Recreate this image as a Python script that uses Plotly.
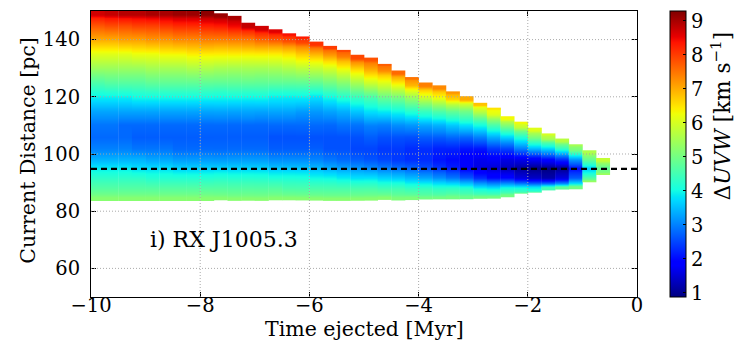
import plotly.graph_objects as go

# ---------------- data ----------------
# start time of every 0.25 Myr column
T_START = [-10.0, -9.75, -9.5, -9.25, -9.0, -8.75, -8.5, -8.25, -8.0, -7.75,
           -7.5, -7.25, -7.0, -6.75, -6.5, -6.25, -6.0, -5.75, -5.5, -5.25,
           -5.0, -4.75, -4.5, -4.25, -4.0, -3.75, -3.5, -3.25, -3.0, -2.75,
           -2.5, -2.25, -2.0, -1.75, -1.5, -1.25, -1.0, -0.75]
BIN_WIDTH = 0.25

# lower / upper distance limit of every column [pc]
D_BOTTOM = [83.7, 83.7, 83.7, 83.7, 83.7, 83.7, 83.7, 83.7, 83.7, 83.7,
            83.7, 83.7, 83.7, 83.7, 83.7, 83.7, 83.7, 83.7, 83.7, 83.7,
            83.7, 83.8, 83.9, 84.0, 84.0, 84.1, 84.2, 84.3, 84.3, 84.4,
            85.0, 86.0, 86.6, 87.1, 87.5, 87.7, 90.0, 92.7]
D_TOP = [150.0, 150.0, 150.0, 150.0, 150.0, 150.0, 150.0, 150.0, 150.0, 149.2,
         148.3, 145.9, 144.8, 143.6, 142.2, 141.1, 139.3, 137.8, 136.4, 134.7,
         133.7, 131.5, 129.2, 126.9, 125.0, 124.0, 121.9, 120.2, 117.9, 116.2,
         113.2, 111.3, 109.2, 107.2, 105.4, 103.4, 101.3, 98.6]

# Delta UVW at the lower and upper limit of each column [km/s]
V_BOTTOM = [5.2, 5.2, 5.2, 5.2, 5.2, 5.2, 5.2, 5.2, 5.2, 5.2,
            5.2, 5.2, 5.2, 5.2, 5.2, 5.2, 5.2, 5.2, 5.2, 5.2,
            5.2, 5.2, 5.1, 5.1, 5.0, 5.0, 5.0, 4.9, 5.0, 5.0,
            5.0, 4.9, 4.7, 4.5, 4.8, 5.0, 5.4, 5.4]
V_TOP = [8.7, 8.8, 8.9, 8.9, 9.0, 9.0, 9.1, 9.1, 9.2, 9.1,
         9.0, 8.8, 8.7, 8.6, 8.4, 8.3, 8.1, 8.0, 7.9, 7.9,
         7.8, 7.7, 7.6, 7.5, 7.4, 7.3, 7.2, 7.0, 6.8, 6.5,
         6.3, 6.3, 6.1, 6.0, 5.7, 5.5, 5.6, 5.8]

# Delta UVW inside each column, read at these distances [pc]
LEVELS = [88, 92, 95, 98, 102, 106, 110, 115, 120, 125, 130, 135, 140, 145]
N = None
V_GRID = [
    [4.7, 4.3, 3.9, 3.4, 3.0, 2.8, 2.9, 3.3, 3.9, 4.6, 5.4, 6.1, 7.0, 7.8],
    [4.7, 4.3, 3.9, 3.4, 3.0, 2.8, 2.9, 3.3, 3.9, 4.7, 5.4, 6.1, 7.0, 7.9],
    [4.7, 4.3, 3.9, 3.4, 3.0, 2.8, 2.8, 3.3, 3.9, 4.7, 5.4, 6.1, 7.1, 7.9],
    [4.7, 4.3, 3.8, 3.4, 2.9, 2.7, 2.8, 3.3, 4.0, 4.7, 5.4, 6.2, 7.1, 8.0],
    [4.7, 4.2, 3.8, 3.3, 2.9, 2.7, 2.8, 3.3, 4.0, 4.8, 5.5, 6.2, 7.2, 8.0],
    [4.7, 4.2, 3.8, 3.3, 2.9, 2.7, 2.8, 3.3, 4.0, 4.8, 5.5, 6.3, 7.2, 8.1],
    [4.7, 4.2, 3.7, 3.2, 2.8, 2.7, 2.8, 3.3, 4.0, 4.8, 5.5, 6.3, 7.3, 8.2],
    [4.7, 4.2, 3.7, 3.2, 2.8, 2.7, 2.8, 3.3, 4.0, 4.8, 5.6, 6.4, 7.3, 8.2],
    [4.7, 4.2, 3.7, 3.2, 2.8, 2.7, 2.8, 3.3, 4.0, 4.8, 5.6, 6.4, 7.4, 8.3],
    [4.7, 4.2, 3.7, 3.2, 2.8, 2.7, 2.8, 3.3, 4.0, 4.8, 5.5, 6.4, 7.4, 8.3],
    [4.7, 4.2, 3.7, 3.2, 2.8, 2.7, 2.8, 3.3, 4.0, 4.8, 5.5, 6.4, 7.4, 8.4],
    [4.7, 4.2, 3.7, 3.2, 2.8, 2.7, 2.8, 3.3, 4.0, 4.8, 5.5, 6.4, 7.5, N],
    [4.7, 4.2, 3.7, 3.2, 2.8, 2.7, 2.8, 3.3, 4.0, 4.8, 5.5, 6.4, 7.6, N],
    [4.7, 4.1, 3.6, 3.1, 2.7, 2.6, 2.8, 3.3, 3.9, 4.8, 5.5, 6.4, 7.7, N],
    [4.6, 4.1, 3.6, 3.1, 2.7, 2.6, 2.8, 3.3, 3.9, 4.8, 5.6, 6.5, 7.8, N],
    [4.6, 4.1, 3.6, 3.1, 2.7, 2.6, 2.8, 3.2, 3.9, 4.8, 5.7, 6.7, 7.9, N],
    [4.6, 4.0, 3.5, 3.0, 2.7, 2.6, 2.8, 3.2, 3.8, 4.8, 5.8, 6.9, N, N],
    [4.6, 4.0, 3.4, 2.9, 2.6, 2.6, 2.8, 3.3, 4.0, 5.0, 6.0, 7.1, N, N],
    [4.6, 3.9, 3.3, 2.8, 2.6, 2.6, 2.9, 3.4, 4.2, 5.2, 6.3, 7.4, N, N],
    [4.6, 3.8, 3.2, 2.7, 2.5, 2.6, 2.9, 3.6, 4.4, 5.5, 6.6, N, N, N],
    [4.6, 3.8, 3.1, 2.6, 2.5, 2.7, 3.0, 3.8, 4.6, 5.9, 7.0, N, N, N],
    [4.5, 3.7, 3.0, 2.5, 2.4, 2.6, 3.0, 3.9, 4.9, 6.1, 7.3, N, N, N],
    [4.5, 3.6, 2.9, 2.4, 2.4, 2.6, 3.1, 4.0, 5.1, 6.4, N, N, N, N],
    [4.4, 3.5, 2.8, 2.3, 2.3, 2.6, 3.2, 4.2, 5.4, 6.9, N, N, N, N],
    [4.4, 3.3, 2.6, 2.3, 2.3, 2.7, 3.3, 4.4, 6.0, N, N, N, N, N],
    [4.3, 3.1, 2.4, 2.1, 2.2, 2.7, 3.4, 4.6, 6.2, N, N, N, N, N],
    [4.3, 2.9, 2.2, 2.0, 2.2, 2.8, 3.6, 4.8, 6.6, N, N, N, N, N],
    [4.2, 2.6, 1.9, 1.8, 2.1, 2.8, 3.8, 5.0, N, N, N, N, N, N],
    [4.0, 2.3, 1.6, 1.7, 2.1, 3.0, 4.1, 5.6, N, N, N, N, N, N],
    [3.9, 2.0, 1.5, 1.8, 2.4, 3.4, 4.6, 6.1, N, N, N, N, N, N],
    [4.0, 1.9, 1.3, 1.6, 2.5, 3.7, 5.0, N, N, N, N, N, N, N],
    [4.0, 1.6, 1.1, 1.7, 3.0, 4.2, 5.8, N, N, N, N, N, N, N],
    [3.8, 1.4, 0.95, 1.8, 3.5, 5.0, N, N, N, N, N, N, N, N],
    [N, 1.2, 0.9, 1.9, 3.7, 5.5, N, N, N, N, N, N, N, N],
    [N, 1.6, 1.0, 2.4, 4.3, N, N, N, N, N, N, N, N, N],
    [N, 2.7, 2.0, 3.2, 5.0, N, N, N, N, N, N, N, N, N],
    [N, 4.4, 3.6, 4.8, N, N, N, N, N, N, N, N, N, N],
    [N, N, 4.8, N, N, N, N, N, N, N, N, N, N, N],
]

REF_DISTANCE = 94.8          # dashed line [pc]
X_RANGE = [-10, 0]
Y_RANGE = [50, 150]
X_TICKS = [-10, -8, -6, -4, -2, 0]
Y_TICKS = [60, 80, 100, 120, 140]
C_RANGE = [0.88, 9.29]
C_TICKS = [1, 2, 3, 4, 5, 6, 7, 8, 9]
LABEL = "i) RX J1005.3"
X_TITLE = "Time ejected [Myr]"
Y_TITLE = "Current Distance [pc]"
C_TITLE = "Δ<i>UVW</i> [km s<sup>−1</sup>]"

# ---------------- matplotlib "jet" colour map ----------------
JET_R = [(0, 0), (0.35, 0), (0.66, 1), (0.89, 1), (1, 0.5)]
JET_G = [(0, 0), (0.125, 0), (0.375, 1), (0.64, 1), (0.91, 0), (1, 0)]
JET_B = [(0, 0.5), (0.11, 1), (0.34, 1), (0.65, 0), (1, 0)]


def _seg(points, x):
    for (x0, y0), (x1, y1) in zip(points[:-1], points[1:]):
        if x0 <= x <= x1:
            return y0 + (y1 - y0) * (x - x0) / (x1 - x0)
    return points[-1][1]


stops = sorted({p for seg in (JET_R, JET_G, JET_B) for p, _ in seg})
JET = [[s, "rgb(%d,%d,%d)" % (round(255 * _seg(JET_R, s)),
                               round(255 * _seg(JET_G, s)),
                               round(255 * _seg(JET_B, s)))] for s in stops]

FONT = "DejaVu Serif"
TICK_SIZE = 19.5
TITLE_SIZE = 20.5

fig = go.Figure()

# one heat-map column per time bin (tiny overlap hides rendering seams)
OVERLAP = 0.012
for i, t0 in enumerate(T_START):
    nodes = [(D_BOTTOM[i], V_BOTTOM[i])]
    nodes += [(d, v) for d, v in zip(LEVELS, V_GRID[i]) if v is not None]
    nodes += [(D_TOP[i], V_TOP[i])]
    ys = [n[0] for n in nodes]
    edges = [ys[0]] + [(a + b) / 2 for a, b in zip(ys[:-1], ys[1:])] + [ys[-1]]
    right = t0 + BIN_WIDTH + (OVERLAP if i < len(T_START) - 1 else 0)
    fig.add_trace(go.Heatmap(
        x=[t0, right],
        y=edges,
        z=[[n[1]] for n in nodes],
        coloraxis="coloraxis",
        zsmooth="best",
        hoverinfo="skip",
        showlegend=False,
    ))

# dashed reference distance
fig.add_trace(go.Scatter(
    x=X_RANGE, y=[REF_DISTANCE, REF_DISTANCE], mode="lines",
    line=dict(color="black", width=2.2, dash="6px,4px"),
    hoverinfo="skip", showlegend=False,
))

# dotted grid drawn above the colour map
grid = dict(color="rgba(165,165,165,0.95)", width=1, dash="1px,2px")
for xv in X_TICKS[1:-1]:
    fig.add_shape(type="line", xref="x", yref="paper", x0=xv, x1=xv, y0=0, y1=1,
                  line=grid, layer="above")
for yv in Y_TICKS:
    fig.add_shape(type="line", xref="paper", yref="y", x0=0, x1=1, y0=yv, y1=yv,
                  line=grid, layer="above")

axis_common = dict(showline=True, linecolor="black", linewidth=1, mirror="ticks",
                   ticks="inside", ticklen=5, tickcolor="black", showgrid=False,
                   zeroline=False, automargin=False,
                   tickfont=dict(family=FONT, size=TICK_SIZE, color="black"))

fig.update_layout(
    width=734, height=341,
    margin=dict(l=91, r=97, t=11, b=44, autoexpand=False),
    paper_bgcolor="white", plot_bgcolor="white",
    font=dict(family=FONT, size=TICK_SIZE, color="black"),
    xaxis=dict(range=X_RANGE, tickvals=X_TICKS, ticklabelstandoff=-9,
               **axis_common),
    yaxis=dict(range=Y_RANGE, tickvals=Y_TICKS, ticklabelstandoff=6,
               **axis_common),
    coloraxis=dict(
        colorscale=JET, cmin=C_RANGE[0], cmax=C_RANGE[1],
        colorbar=dict(
            x=1.0604, xanchor="left", xpad=0, y=0.5, yanchor="middle",
            len=1, lenmode="fraction", thickness=16, ypad=0,
            outlinecolor="black", outlinewidth=1,
            tickvals=C_TICKS, ticks="inside", ticklen=3, tickcolor="black",
            tickfont=dict(family=FONT, size=TICK_SIZE, color="black"),
        ),
    ),
    annotations=[
        dict(text=LABEL, x=-8.95, y=70, xref="x", yref="y", xanchor="left",
             yanchor="middle", showarrow=False,
             font=dict(family=FONT, size=22, color="black")),
        dict(text=X_TITLE, x=0.5, y=-0.112, xref="paper", yref="paper",
             xanchor="center", yanchor="middle", showarrow=False,
             font=dict(family=FONT, size=TITLE_SIZE, color="black")),
        dict(text=Y_TITLE, x=-0.117, y=0.512, xref="paper", yref="paper",
             textangle=-90, xanchor="center", yanchor="middle", showarrow=False,
             font=dict(family=FONT, size=TITLE_SIZE, color="black")),
        dict(text=C_TITLE, x=1.153, y=0.63,
             xref="paper", yref="paper", textangle=-90, showarrow=False,
             xanchor="center", yanchor="middle",
             font=dict(family=FONT, size=21.5, color="black")),
    ],
)

fig.write_html("out.html")
